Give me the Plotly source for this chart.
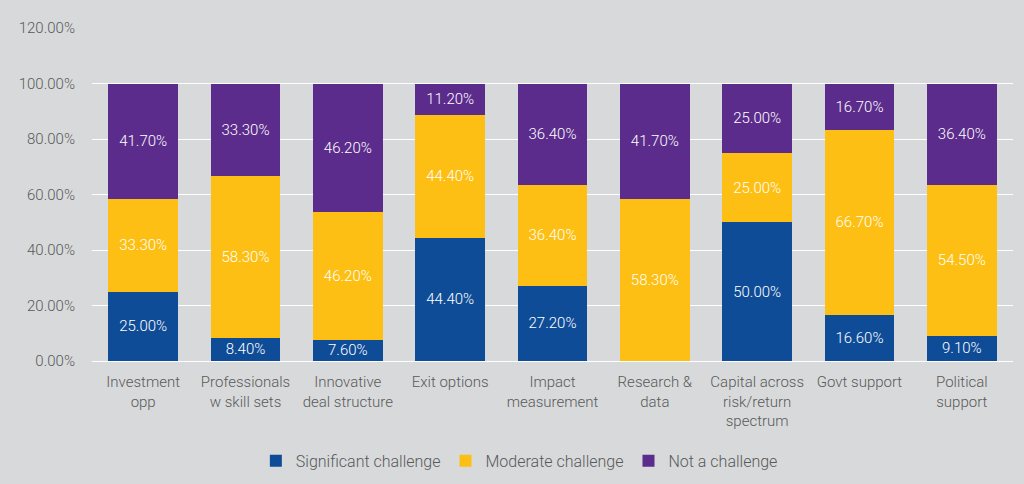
import plotly.graph_objects as go

# ---- data ----
CATEGORIES = [
    "Investment<br>opp",
    "Professionals<br>w skill sets",
    "Innovative<br>deal structure",
    "Exit options",
    "Impact<br>measurement",
    "Research &<br>data",
    "Capital across<br>risk/return<br>spectrum",
    "Govt support",
    "Political<br>support",
]
SIGNIFICANT = [25.0, 8.4, 7.6, 44.4, 27.2, 0.0, 50.0, 16.6, 9.1]
MODERATE = [33.3, 58.3, 46.2, 44.4, 36.4, 58.3, 25.0, 66.7, 54.5]
NOT_CHALLENGE = [41.7, 33.3, 46.2, 11.2, 36.4, 41.7, 25.0, 16.7, 36.4]

SERIES = [
    ("Significant challenge", SIGNIFICANT, "#0f4c97"),
    ("Moderate challenge", MODERATE, "#fdbf13"),
    ("Not a challenge", NOT_CHALLENGE, "#5b2c8b"),
]

BG = "#d7d9db"
FONT = "Roboto"
TXT = "#595959"

fig = go.Figure()
for name, vals, color in SERIES:
    labels = [f"{v:.2f}%" if v > 0 else "" for v in vals]
    fig.add_trace(go.Bar(
        x=CATEGORIES,
        y=vals,
        name=name,
        marker=dict(color=color, line=dict(width=0)),
        text=labels,
        textposition="inside",
        insidetextanchor="middle",
        textangle=0,
        textfont=dict(color="white", size=15, family=FONT, weight=300),
        constraintext="none",
        hoverinfo="x+y+name",
    ))

fig.update_layout(
    barmode="stack",
    bargap=0.32,
    width=1024,
    height=484,
    margin=dict(l=92, r=11, t=28, b=123, autoexpand=False),
    paper_bgcolor=BG,
    plot_bgcolor=BG,
    font=dict(family=FONT, color=TXT, size=15, weight=300),
    uniformtext=dict(minsize=15, mode="show"),
    xaxis=dict(
        showgrid=False,
        showline=False,
        ticks="",
        automargin=False,
        ticklabelstandoff=10,
        tickfont=dict(size=15, color=TXT, weight=300),
    ),
    yaxis=dict(
        range=[0, 120],
        dtick=20,
        tickformat=".2f",
        ticksuffix="%",
        showgrid=True,
        gridcolor="white",
        gridwidth=1,
        zeroline=True,
        zerolinecolor="white",
        zerolinewidth=1,
        showline=False,
        ticks="",
        automargin=False,
        ticklabelstandoff=16,
        tickfont=dict(size=15, color=TXT, weight=300),
    ),
    legend=dict(
        orientation="h",
        x=0.464,
        xanchor="center",
        y=-0.30,
        yanchor="middle",
        itemwidth=30,
        font=dict(size=16, color=TXT, weight=300),
        bgcolor="rgba(0,0,0,0)",
        traceorder="normal",
    ),
)

fig.write_html(
    "out.html",
    config={"displayModeBar": False},
    post_script="document.body.style.margin='0';document.body.style.overflow='hidden';",
)
